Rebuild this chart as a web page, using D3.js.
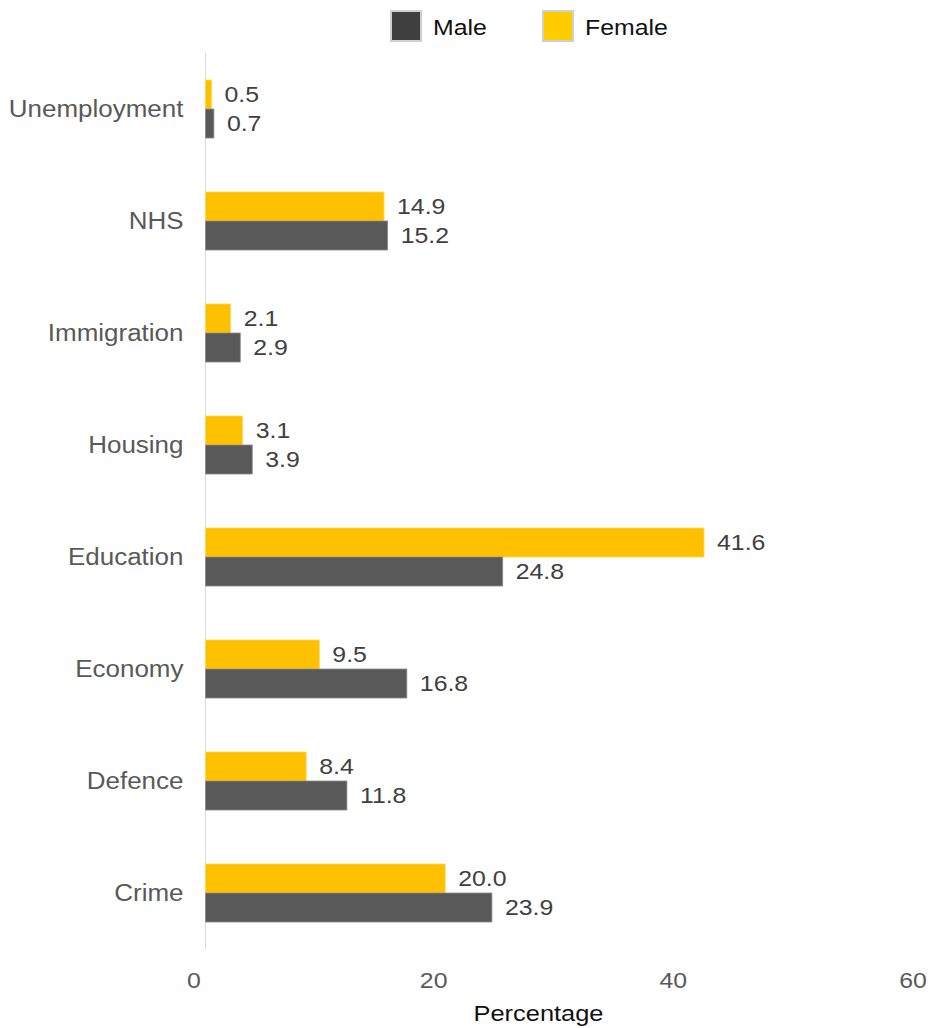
<!DOCTYPE html>
<html>
<head>
<meta charset="utf-8">
<script src="https://cdn.jsdelivr.net/npm/d3@7"></script>
<style>
  html, body { margin: 0; padding: 0; background: #fff; }
  svg { display: block; font-family: "Liberation Sans", Arial, sans-serif; }
</style>
</head>
<body>
<svg id="chart" width="931" height="1028"></svg>
<script>
// Survey results: most important issue, by gender (percent)
const categories = ["Unemployment", "NHS", "Immigration", "Housing", "Education", "Economy", "Defence", "Crime"];
const femaleValues = [0.5, 14.9, 2.1, 3.1, 41.6, 9.5, 8.4, 20.0];
const maleValues   = [0.7, 15.2, 2.9, 3.9, 24.8, 16.8, 11.8, 23.9];
const seriesNames = ["Male", "Female"];
const xTicks = [0, 20, 40, 60];
const xTitle = "Percentage";

const colors = { Male: "#595959", Female: "#FFC000" };
const legendColors = { Male: "#404040", Female: "#FFCC00" };
const SX = 1.13; // horizontal stretch of the lettering

const svg = d3.select("#chart");

const x = d3.scaleLinear().domain([0, 60]).range([205.5, 924.5]);
const y = d3.scaleBand().domain(categories).range([53, 949])
  .paddingInner(0.482).paddingOuter(0.241);

const rows = categories.map((c, i) => ({ cat: c, Female: femaleValues[i], Male: maleValues[i] }));
const sub = d3.scaleBand().domain(["Female", "Male"]).range([0, y.bandwidth()]);

function stretchedText(sel, fx, fy) {
  return sel.attr("transform", (d, i) => `translate(${fx(d, i)},${fy(d, i)}) scale(${SX},1)`);
}

// vertical axis line
svg.append("line")
  .attr("x1", x(0)).attr("x2", x(0))
  .attr("y1", 53).attr("y2", 949)
  .attr("stroke", "#d9d9d9").attr("stroke-width", 1);

// bars
const groups = svg.append("g").selectAll("g")
  .data(rows).join("g")
  .attr("transform", d => `translate(0,${y(d.cat)})`);

["Female", "Male"].forEach(s => {
  groups.append("rect")
    .attr("x", x(0))
    .attr("y", sub(s))
    .attr("width", d => x(d[s]) - x(0))
    .attr("height", sub.bandwidth())
    .attr("fill", colors[s])
    .attr("stroke", s === "Female" ? "#ffd75a" : "#8a8a8a")
    .attr("stroke-width", 0.8);

  stretchedText(groups.append("text"),
      d => x(d[s]) + 13,
      () => sub(s) + sub.bandwidth() / 2)
    .attr("dominant-baseline", "central")
    .attr("font-size", 22)
    .attr("fill", "#404040")
    .text(d => d[s].toFixed(1));
});

// category labels
stretchedText(svg.append("g").selectAll("text").data(categories).join("text"),
    () => x(0) - 22,
    d => y(d) + y.bandwidth() / 2)
  .attr("text-anchor", "end")
  .attr("dominant-baseline", "central")
  .attr("font-size", 23)
  .attr("fill", "#595959")
  .text(d => d);

// x tick labels
stretchedText(svg.append("g").selectAll("text").data(xTicks).join("text"),
    d => x(d) - 11.5,
    () => 988)
  .attr("text-anchor", "middle")
  .attr("font-size", 22)
  .attr("fill", "#595959")
  .text(d => d);

// axis title
stretchedText(svg.append("text").datum(xTitle),
    () => 538.5,
    () => 1021)
  .attr("text-anchor", "middle")
  .attr("font-size", 22.5)
  .attr("fill", "#111")
  .text(d => d);

// legend
const legendX = { Male: 390, Female: 542 };
const leg = svg.append("g").selectAll("g").data(seriesNames).join("g")
  .attr("transform", d => `translate(${legendX[d]},10)`);
leg.append("rect")
  .attr("x", 1).attr("y", 1)
  .attr("width", 30).attr("height", 30)
  .attr("fill", d => legendColors[d])
  .attr("stroke", "#d0d0d0").attr("stroke-width", 2);
stretchedText(leg.append("text"), () => 43, () => 25)
  .attr("font-size", 22)
  .attr("fill", "#111")
  .text(d => d);
</script>
</body>
</html>
